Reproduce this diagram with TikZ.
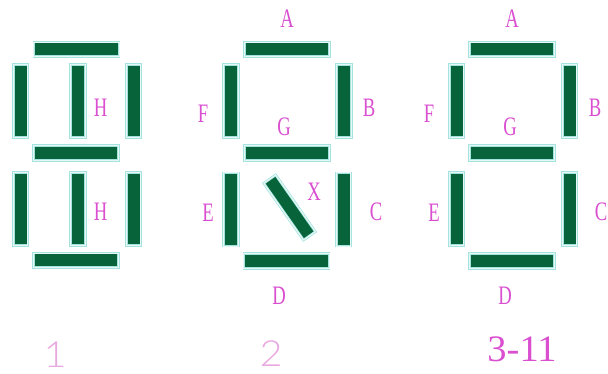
\documentclass[tikz,border=0pt]{standalone}
\usepackage{fontspec}
\setmainfont{Liberation Serif}
\newfontfamily\thinfont{Lato Light}
\definecolor{segfill}{HTML}{07643A}
\definecolor{segedge}{HTML}{A5E3DF}
\definecolor{seggap}{HTML}{E6F7F5}
\definecolor{labelpink}{HTML}{D94FD0}
\definecolor{palepink}{HTML}{E8A8E0}
\tikzset{
  x=0.75pt,y=-0.75pt,
  segbase/.style={rectangle,inner sep=0pt,fill=segfill,draw=segedge,line width=0.55pt,double=seggap,double distance=0.8pt},
  hseg/.style={segbase,minimum width=64pt,minimum height=10.9pt},
  vseg/.style={segbase,minimum width=10.9pt,minimum height=55pt},
  xseg/.style={segbase,minimum width=52pt,minimum height=10.9pt,rotate=-55},
  lab/.style={text=labelpink,font=\fontsize{20}{20}\selectfont,inner sep=0pt,xscale=.7,transform shape},
  biglab/.style={text=labelpink,font=\fontsize{28}{28}\selectfont,inner sep=0pt,xscale=1.03,transform shape},
  thinlab/.style={text=palepink,font=\thinfont\fontsize{27}{27}\selectfont,inner sep=0pt,xscale=1.1,transform shape}
}
\begin{document}
\begin{tikzpicture}
\useasboundingbox (0,0) rectangle (608,374);
% digit 1
\node[hseg] (a1) at (76.5,49.5) {};
\node[vseg] (f1) at (20.5,101) {};
\node[vseg] (h1) at (78,101) {};
\node[vseg] (b1) at (133.5,101) {};
\node[hseg] (g1) at (76,153) {};
\node[vseg] (e1) at (20.5,209) {};
\node[vseg] (i1) at (78,209) {};
\node[vseg] (c1) at (133.5,209) {};
\node[hseg] (d1) at (76,260.5) {};
\node[lab] (lh1) at (100.5,108) {H};
\node[lab] (lh2) at (100.5,212) {H};
\node[thinlab] (n1) at (55,355) {1};
% digit 2
\node[hseg] (a2) at (287,49.5) {};
\node[vseg] (f2) at (231,101) {};
\node[vseg] (b2) at (344,101) {};
\node[hseg] (g2) at (287,153) {};
\node[vseg] (e2) at (231,209.5) {};
\node[vseg] (c2) at (343.5,209.5) {};
\node[hseg] (d2) at (286.5,261) {};
\node[xseg] (x2) at (289.6,207.5) {};
\node[lab] (la2) at (287,19) {A};
\node[lab] (lf2) at (203,114) {F};
\node[lab] (lb2) at (369,108) {B};
\node[lab] (lg2) at (284,127) {G};
\node[lab] (le2) at (208,213) {E};
\node[lab] (lx2) at (314,192) {X};
\node[lab] (lc2) at (376,212) {C};
\node[lab] (ld2) at (279,296) {D};
\node[thinlab] (n2) at (271,354) {2};
% digit 3
\node[hseg] (a3) at (512,49.5) {};
\node[vseg] (f3) at (456.5,101) {};
\node[vseg] (b3) at (569.5,101) {};
\node[hseg] (g3) at (512,153) {};
\node[vseg] (e3) at (456.5,209) {};
\node[vseg] (c3) at (569.5,209) {};
\node[hseg] (d3) at (512,261) {};
\node[lab] (la3) at (512,19) {A};
\node[lab] (lf3) at (429,114) {F};
\node[lab] (lb3) at (595,108) {B};
\node[lab] (lg3) at (510,127) {G};
\node[lab] (le3) at (434,213) {E};
\node[lab] (lc3) at (601,212) {C};
\node[lab] (ld3) at (505,296) {D};
\node[biglab] (n3) at (522,349) {3-11};
\end{tikzpicture}
\end{document}
